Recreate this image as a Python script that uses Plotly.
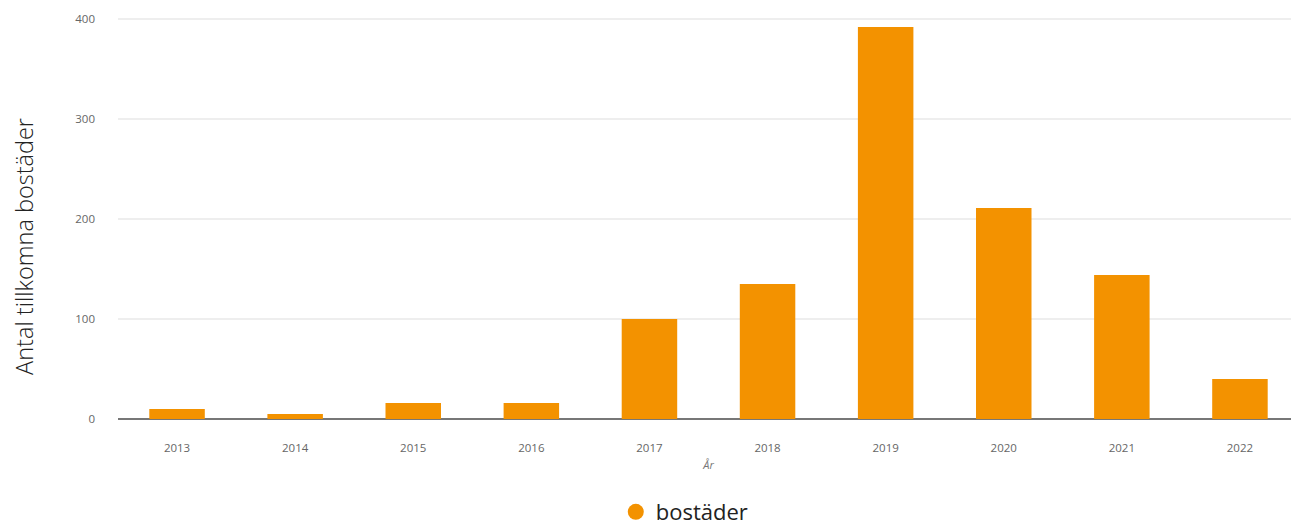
import plotly.graph_objects as go

years = ["2013", "2014", "2015", "2016", "2017", "2018", "2019", "2020", "2021", "2022"]
bostader = [10, 5, 16, 16, 100, 135, 392, 211, 144, 40]
y_ticks = [0, 100, 200, 300, 400]

orange = "#F39200"

fig = go.Figure()
fig.add_trace(go.Bar(x=years, y=bostader, marker=dict(color=orange, line=dict(width=0)),
                     showlegend=False, name="bostäder"))
fig.add_trace(go.Scatter(x=[None], y=[None], mode="markers", name="bostäder",
                         marker=dict(color=orange, size=18, symbol="circle")))

fig.update_layout(
    width=1299, height=525,
    margin=dict(l=110, r=8, t=1, b=114),
    plot_bgcolor="white", paper_bgcolor="white",
    bargap=0.53,
    font=dict(family="Open Sans", color="#555"),
    showlegend=True,
    legend=dict(orientation="h", x=0.4215, xanchor="left", yref="container", y=0.0, yanchor="bottom",
                font=dict(size=22, color="#222", family="Open Sans"), itemsizing="trace"),
    xaxis=dict(type="category", showgrid=False, showline=False, zeroline=False, automargin=False,
               ticks="", tickfont=dict(size=11.5, color="#666"), ticklabelstandoff=20,
               title=dict(text="<i>År</i>", font=dict(size=11, color="#777"), standoff=7)),
    yaxis=dict(range=[0, 410], tickvals=y_ticks, showgrid=True, gridcolor="#eeeeee", gridwidth=2,
               automargin=False,
               zeroline=True, zerolinecolor="#777777", zerolinewidth=2, showline=False,
               ticks="", tickfont=dict(size=11.5, color="#666"), ticklabelstandoff=22),
    annotations=[dict(text="Antal tillkomna bostäder", textangle=-90, showarrow=False,
                      xref="paper", yref="paper", x=-0.0795, y=0.42,
                      xanchor="center", yanchor="middle",
                      font=dict(size=23.5, color="#222", family="Open Sans", weight=300))],
)

fig.write_html("out.html")
